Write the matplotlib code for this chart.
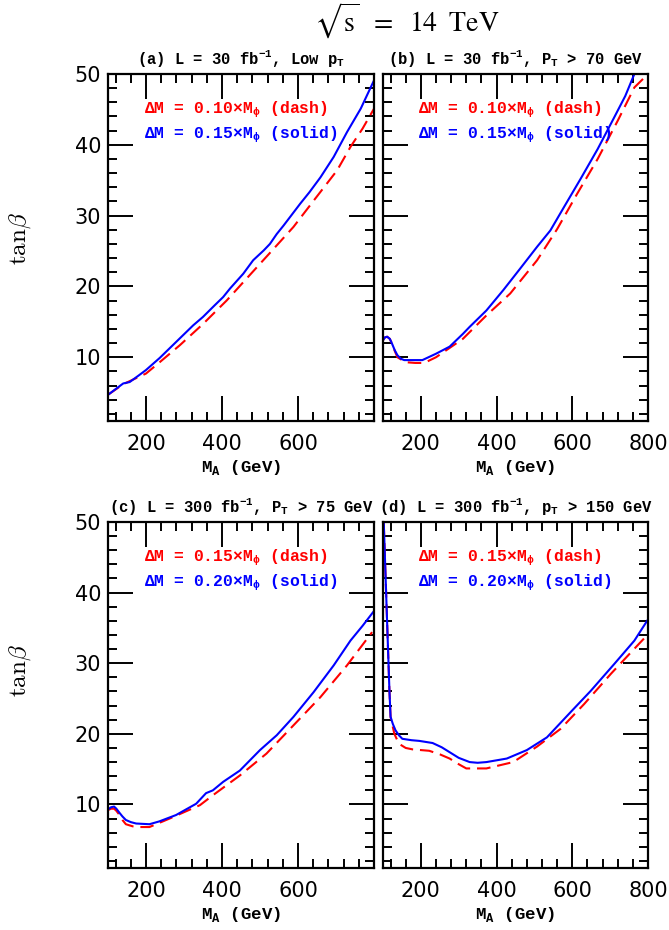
import matplotlib
matplotlib.use("Agg")
import matplotlib.pyplot as plt
from matplotlib.ticker import MultipleLocator, FixedLocator

# ---------------- data ----------------
# Panel (a): L = 30 fb^-1, low pT
ma_a_solid = [100, 120, 140, 157, 180, 200, 236, 280, 324, 350, 380, 403, 421, 456, 482, 510, 526, 544, 562, 606, 630, 659, 694, 729, 765, 800]
tb_a_solid = [4.7, 5.5, 6.3, 6.5, 7.4, 8.2, 9.9, 12.2, 14.5, 15.7, 17.3, 18.5, 19.7, 21.8, 23.7, 25.1, 26.0, 27.4, 28.6, 31.7, 33.3, 35.4, 38.3, 41.8, 45.1, 49.1]
ma_a_dash = [100, 140, 200, 236, 289, 350, 412, 456, 517, 588, 641, 703, 738, 770, 800]
tb_a_dash = [4.7, 6.2, 7.7, 9.3, 11.7, 14.7, 18.0, 20.6, 24.2, 28.4, 32.1, 36.4, 39.7, 42.3, 45.1]

# Panel (b): L = 30 fb^-1, PT > 70 GeV
ma_b_solid = [100, 105, 111, 118, 124, 131, 138, 147, 156, 204, 240, 276, 311, 329, 373, 418, 462, 507, 542, 578, 622, 667, 711, 740, 764]
tb_b_solid = [12.4, 12.8, 12.9, 12.6, 11.9, 11.0, 10.3, 9.8, 9.6, 9.6, 10.5, 11.5, 13.3, 14.3, 16.6, 19.5, 22.5, 25.6, 27.9, 31.2, 35.2, 39.4, 43.9, 46.9, 50.0]
ma_b_dash = [100, 105, 111, 118, 124, 131, 138, 160, 185, 209, 240, 311, 373, 436, 507, 560, 613, 667, 720, 764, 800]
tb_b_dash = [12.4, 12.8, 12.9, 12.6, 11.9, 10.9, 10.0, 9.3, 9.2, 9.2, 10.0, 12.6, 15.9, 19.0, 23.7, 28.1, 33.1, 38.0, 43.4, 48.1, 50.0]

# Panel (c): L = 300 fb^-1, PT > 75 GeV
ma_c_solid = [100, 108, 116, 122, 129, 138, 147, 160, 174, 209, 235, 279, 332, 358, 376, 403, 447, 500, 544, 588, 641, 694, 738, 770, 800]
tb_c_solid = [9.3, 9.6, 9.7, 9.4, 8.9, 8.3, 7.8, 7.5, 7.3, 7.2, 7.6, 8.5, 10.1, 11.6, 12.0, 13.2, 14.8, 17.7, 19.8, 22.4, 25.9, 29.7, 33.2, 35.3, 37.4]
ma_c_dash = [100, 108, 116, 122, 129, 138, 147, 165, 182, 209, 262, 342, 376, 447, 517, 588, 659, 729, 795]
tb_c_dash = [9.2, 9.4, 9.4, 9.1, 8.6, 7.8, 7.2, 6.9, 6.8, 6.8, 8.0, 9.9, 11.3, 14.1, 17.2, 21.2, 25.2, 29.7, 34.4]

# Panel (d): L = 300 fb^-1, pT > 150 GeV
ma_d_solid = [102, 111, 117, 120, 126, 133, 142, 151, 175, 196, 231, 255, 276, 300, 329, 350, 373, 427, 480, 533, 596, 649, 711, 764, 800]
tb_d_solid = [49.9, 35.6, 26.1, 22.4, 21.4, 20.5, 19.8, 19.3, 19.1, 19.0, 18.7, 18.1, 17.4, 16.6, 16.0, 15.9, 16.0, 16.5, 17.7, 19.5, 23.1, 26.1, 29.9, 33.2, 36.2]
ma_d_dash = [102, 111, 117, 120, 130, 142, 160, 178, 222, 250, 276, 300, 320, 373, 444, 507, 569, 631, 702, 756, 800]
tb_d_dash = [49.9, 35.6, 26.1, 22.4, 20.0, 18.6, 18.0, 17.8, 17.6, 17.1, 16.5, 15.7, 15.1, 15.1, 16.0, 18.2, 20.7, 24.2, 28.5, 31.6, 34.1]

titles = [r"(a) L = 30 fb$^{\mathregular{-1}}$, Low p$_{\mathregular{T}}$",
          r"(b) L = 30 fb$^{\mathregular{-1}}$, P$_{\mathregular{T}}$ > 70 GeV",
          r"(c) L = 300 fb$^{\mathregular{-1}}$, P$_{\mathregular{T}}$ > 75 GeV",
          r"(d) L = 300 fb$^{\mathregular{-1}}$, p$_{\mathregular{T}}$ > 150 GeV"]
legend_dash = [r"ΔM = 0.10×M$_{\mathregular{ϕ}}$ (dash)", r"ΔM = 0.10×M$_{\mathregular{ϕ}}$ (dash)",
               r"ΔM = 0.15×M$_{\mathregular{ϕ}}$ (dash)", r"ΔM = 0.15×M$_{\mathregular{ϕ}}$ (dash)"]
legend_solid = [r"ΔM = 0.15×M$_{\mathregular{ϕ}}$ (solid)", r"ΔM = 0.15×M$_{\mathregular{ϕ}}$ (solid)",
                r"ΔM = 0.20×M$_{\mathregular{ϕ}}$ (solid)", r"ΔM = 0.20×M$_{\mathregular{ϕ}}$ (solid)"]
x_major = [[200, 400, 600], [200, 400, 600, 800], [200, 400, 600], [200, 400, 600, 800]]
y_major = [10, 20, 30, 40, 50]

panels = [(ma_a_solid, tb_a_solid, ma_a_dash, tb_a_dash),
          (ma_b_solid, tb_b_solid, ma_b_dash, tb_b_dash),
          (ma_c_solid, tb_c_solid, ma_c_dash, tb_c_dash),
          (ma_d_solid, tb_d_solid, ma_d_dash, tb_d_dash)]

# ---------------- figure ----------------
W, H = 669, 930
fig = plt.figure(figsize=(W / 100, H / 100), dpi=100)

def frac_rect(l, t, r, b):
    return [l / W, 1 - b / H, (r - l) / W, (b - t) / H]

rects = [frac_rect(108, 74, 374, 421), frac_rect(383, 74, 648, 421),
         frac_rect(108, 522, 374, 868), frac_rect(383, 522, 648, 868)]

mono = ['Liberation Mono', 'DejaVu Sans Mono']
for i, (rect, data) in enumerate(zip(rects, panels)):
    ax = fig.add_axes(rect)
    xs, ys, xd, yd = data
    ax.plot(xd, yd, color='#ff0000', lw=1.5, dashes=(6.5, 3.3))
    ax.plot(xs, ys, color='#0000ff', lw=1.5)
    ax.set_xlim(100, 800)
    ax.set_ylim(1, 50)
    ax.xaxis.set_major_locator(FixedLocator([200, 400, 600, 800]))
    ax.xaxis.set_minor_locator(MultipleLocator(40))
    ax.yaxis.set_major_locator(FixedLocator(y_major))
    ax.yaxis.set_minor_locator(MultipleLocator(2))
    ax.tick_params(which='both', direction='in', top=True, right=True, width=1.4, color='black')
    ax.tick_params(which='major', length=18)
    ax.tick_params(which='minor', length=6.5)
    ax.tick_params(axis='x', which='major', pad=9, labelsize=15)
    ax.tick_params(axis='y', which='major', pad=5, labelsize=15)
    ax.set_xticklabels([str(v) if v in x_major[i] else '' for v in [200, 400, 600, 800]])
    if i % 2 == 1:
        ax.set_yticklabels([])
    for s in ax.spines.values():
        s.set_linewidth(1.6)
    ax.text(0.5, 1.015, titles[i], transform=ax.transAxes, ha='center', va='bottom',
            family=mono, fontweight='bold', fontsize=11.2)
    ax.text(0.5, -0.135, r"M$_{\mathregular{A}}$ (GeV)", transform=ax.transAxes, ha='center', va='center',
            family=mono, fontweight='bold', fontsize=12.5)
    lx = 0.137 if i % 2 == 0 else 0.132
    ax.text(lx, 0.896, legend_dash[i], transform=ax.transAxes, ha='left', va='center',
            color='#ff0000', family=mono, fontweight='bold', fontsize=11.8)
    ax.text(lx, 0.824, legend_solid[i], transform=ax.transAxes, ha='left', va='center',
            color='#0000ff', family=mono, fontweight='bold', fontsize=11.8)

for yc in (239, 671):
    fig.text(20 / W, 1 - yc / H, r"$\mathrm{tan}\beta$", rotation=90, ha='center', va='center',
             fontsize=18, math_fontfamily='cm')
fig.text(407 / W, 1 - 32 / H, r"$\sqrt{\mathrm{s}}\ \;=\ \;\mathrm{14}\ \;\mathrm{TeV}$",
         ha='center', va='baseline', fontsize=20, math_fontfamily='stix')

fig.savefig("out.png", dpi=100)
